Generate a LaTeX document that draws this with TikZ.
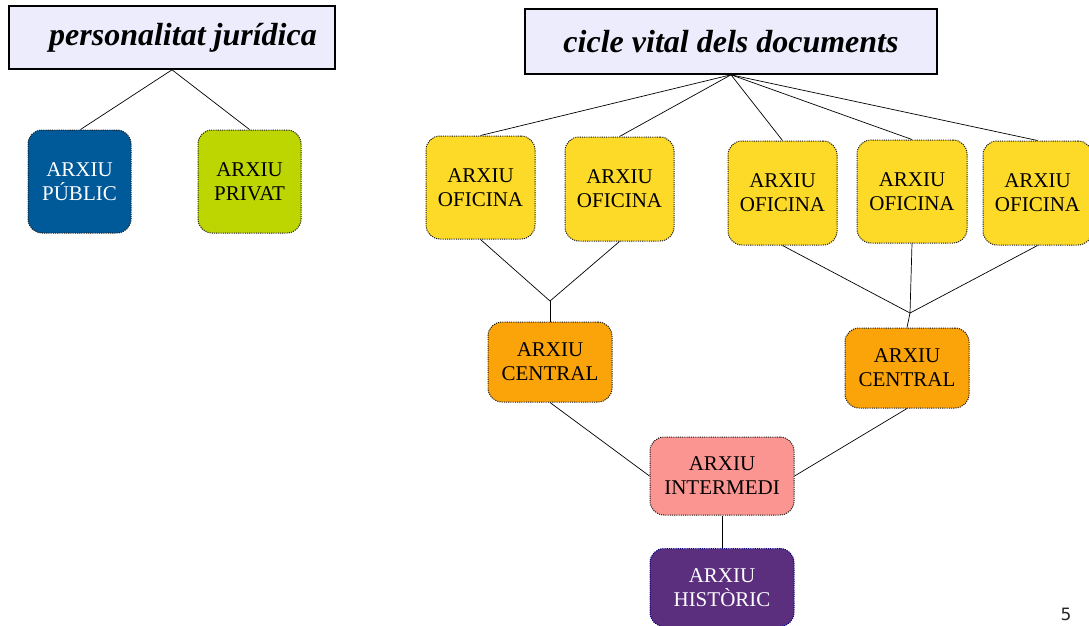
\documentclass[tikz,border=0pt]{standalone}
\usepackage{fontspec}
\setmainfont{Liberation Serif}
\setsansfont{DejaVu Sans}
\definecolor{titlefill}{HTML}{ECECFC}
\definecolor{cblue}{HTML}{005A9A}
\definecolor{clime}{HTML}{BDD500}
\definecolor{cyellow}{HTML}{FDD928}
\definecolor{corange}{HTML}{FBA40A}
\definecolor{cpink}{HTML}{FB9591}
\definecolor{cpurple}{HTML}{5C2F7E}
\tikzset{
  titlefont/.style={font=\fontsize{32}{36}\selectfont\bfseries\itshape},
  titlebox/.style={draw=black, line width=1.6pt, fill=titlefill, inner sep=0pt, titlefont},
  arxbox/.style={draw=black!90, dash pattern=on 1.1pt off 1.1pt, line width=1pt, rounded corners=14pt,
    inner sep=0pt, align=center, font=\fontsize{21}{24}\selectfont},
  conn/.style={draw=black, line width=0.7pt}
}
\begin{document}
\begin{tikzpicture}[x=1pt,y=-1pt]
\useasboundingbox (0,0) rectangle (1089,625);
% titles
\node[titlebox, minimum width=326pt, minimum height=63pt] (pj) at (172,37.5) {};
\node[titlefont, anchor=center] (pjt) at (183,38) {personalitat jurídica};
\node[titlebox, minimum width=412pt, minimum height=65pt] (cv) at (731,41.5) {cicle vital dels documents};
% left
\node[arxbox, fill=cblue, text=white, minimum width=103pt, minimum height=103pt] (pub) at (79.5,181.5) {ARXIU\\PÚBLIC};
\node[arxbox, fill=clime, minimum width=103pt, minimum height=103pt] (priv) at (249.5,181.5) {ARXIU\\PRIVAT};
% oficines
\node[arxbox, fill=cyellow, minimum width=109pt, minimum height=103pt] (o1) at (480.5,187.5) {ARXIU\\OFICINA};
\node[arxbox, fill=cyellow, minimum width=109pt, minimum height=104pt] (o2) at (619.5,189) {ARXIU\\OFICINA};
\node[arxbox, fill=cyellow, minimum width=109pt, minimum height=104pt] (o3) at (782.5,193) {ARXIU\\OFICINA};
\node[arxbox, fill=cyellow, minimum width=110pt, minimum height=103pt] (o4) at (912,191.5) {ARXIU\\OFICINA};
\node[arxbox, fill=cyellow, minimum width=109pt, minimum height=104pt] (o5) at (1037.5,193) {ARXIU\\OFICINA};
% centrals
\node[arxbox, fill=corange, minimum width=124pt, minimum height=80pt] (c1) at (550,362) {ARXIU\\CENTRAL};
\node[arxbox, fill=corange, minimum width=124pt, minimum height=80pt] (c2) at (907,368) {ARXIU\\CENTRAL};
% intermedi, historic
\node[arxbox, fill=cpink, minimum width=144pt, minimum height=78pt] (im) at (722,476) {ARXIU\\INTERMEDI};
\node[arxbox, draw=blue!50!black, fill=cpurple, text=white, minimum width=144pt, minimum height=78pt] (hi) at (722,587.5) {ARXIU\\HISTÒRIC};
% junctions
\coordinate (j1) at (550,301);
\coordinate (j2) at (910,313);
% connectors
\draw[conn] (pj.south) -- ([xshift=1pt]pub.north);
\draw[conn] (pj.south) -- (priv.north);
\draw[conn] (cv.south) -- (o1.north);
\draw[conn] (cv.south) -- (o2.north);
\draw[conn] (cv.south) -- (o3.north);
\draw[conn] (cv.south) -- (o4.north);
\draw[conn] (cv.south) -- (o5.north);
\draw[conn] (o1.south) -- (j1) -- (o2.south);
\draw[conn] (j1) -- (c1.north);
\draw[conn] (o3.south) -- (j2) -- (o5.south);
\draw[conn] (o4.south) -- (j2) -- (c2.north);
\draw[conn] (c1.south) -- (im.west);
\draw[conn] (c2.south) -- (im.east);
\draw[conn] (im.south) -- (hi.north);
% page number
\node[font=\sffamily\fontsize{17}{19}\selectfont, text=black!85] (pg) at (1066,614) {5};
\end{tikzpicture}
\end{document}
